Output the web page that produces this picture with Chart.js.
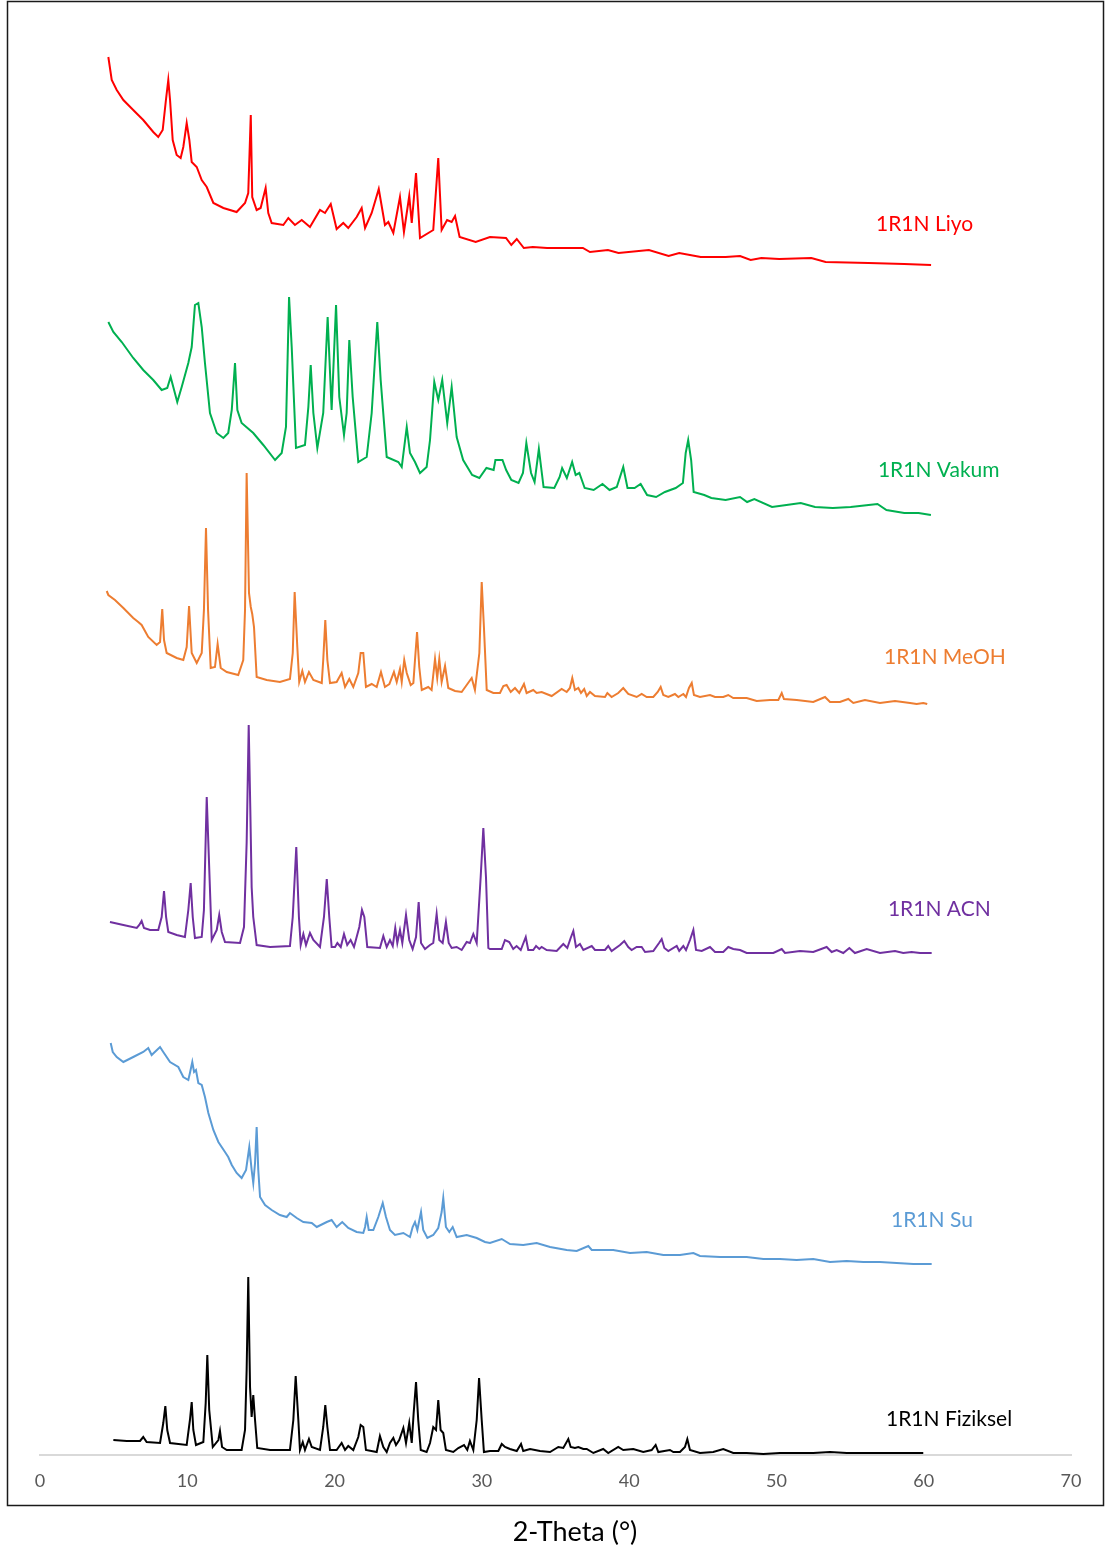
<!DOCTYPE html>
<html>
<head>
<meta charset="utf-8">
<title>1R1N XRD</title>
<script src="https://cdn.jsdelivr.net/npm/chart.js@4.4.1/dist/chart.umd.min.js"></script>
<style>
  html,body{margin:0;padding:0;background:#fff;}
  #wrap{position:relative;width:1105px;height:1551px;}
</style>
</head>
<body>
<div id="wrap"><canvas id="xrd"></canvas></div>
<script>
// 2-theta (deg) / intensity (a.u., each pattern already offset as in the sheet)
const liyo = [[4.64,1398],[4.87,1375],[5.21,1365],[5.66,1355],[6.33,1345],[7.01,1335],[7.69,1323],[8.03,1318],[8.33,1325],[8.55,1355],[8.71,1375],[8.83,1355],[9.01,1315],[9.28,1300],[9.55,1297],[9.73,1308],[9.96,1332],[10.14,1315],[10.30,1293],[10.64,1288],[10.98,1275],[11.32,1268],[11.77,1252],[12.45,1247],[13.35,1243],[13.92,1252],[14.14,1262],[14.31,1340],[14.41,1258],[14.71,1245],[14.98,1247],[15.32,1267],[15.50,1242],[15.73,1232],[16.52,1230],[16.86,1237],[17.31,1230],[17.77,1235],[18.33,1228],[19.01,1245],[19.35,1242],[19.74,1251],[20.14,1226],[20.59,1232],[20.93,1227],[21.50,1238],[21.84,1247],[22.07,1227],[22.52,1242],[23.00,1266],[23.42,1230],[23.65,1233],[23.99,1222],[24.44,1258],[24.71,1223],[25.07,1259],[25.24,1232],[25.53,1282],[25.80,1217],[26.70,1225],[27.04,1297],[27.27,1225],[27.64,1235],[27.95,1233],[28.18,1239],[28.49,1218],[29.58,1213],[30.55,1218],[31.64,1217],[32.00,1210],[32.37,1216],[32.85,1207],[33.46,1208],[34.43,1207],[35.64,1207],[36.86,1207],[37.34,1203],[38.56,1205],[39.28,1202],[41.34,1205],[42.68,1199],[43.40,1202],[44.86,1198],[46.55,1198],[47.53,1199],[48.25,1195],[48.98,1197],[50.19,1196],[52.37,1197],[53.34,1193],[56.26,1192],[58.68,1191],[60.50,1190]];

const vakum = [[4.64,1133],[4.98,1123],[5.55,1113],[6.33,1097],[7.01,1085],[7.69,1075],[8.26,1065],[8.64,1067],[8.87,1078],[9.05,1068],[9.32,1053],[9.62,1068],[10.07,1092],[10.30,1108],[10.52,1150],[10.75,1152],[10.98,1128],[11.20,1092],[11.54,1042],[12.00,1022],[12.45,1017],[12.78,1022],[13.02,1045],[13.24,1092],[13.40,1045],[13.69,1032],[14.48,1022],[15.16,1010],[15.96,995],[16.41,1002],[16.70,1028],[16.91,1158],[17.09,1108],[17.38,1007],[17.99,1010],[18.22,1048],[18.38,1090],[18.56,1042],[18.83,1007],[19.23,1042],[19.53,1138],[19.80,1045],[20.10,1150],[20.32,1058],[20.64,1020],[20.82,1042],[21.00,1115],[21.23,1058],[21.61,993],[22.18,998],[22.52,1042],[22.90,1133],[23.13,1075],[23.54,998],[24.33,993],[24.56,988],[24.90,1028],[25.12,1002],[25.46,993],[25.80,982],[26.25,988],[26.48,1015],[26.77,1073],[27.04,1055],[27.31,1075],[27.65,1032],[27.95,1068],[28.29,1018],[28.73,995],[29.34,980],[29.83,977],[30.31,987],[30.80,985],[30.92,995],[31.40,995],[31.65,985],[32.00,975],[32.49,972],[32.79,982],[33.02,1012],[33.34,982],[33.58,973],[33.87,1006],[34.19,968],[34.92,967],[35.28,978],[35.45,987],[35.77,977],[36.13,993],[36.37,980],[36.62,982],[36.98,967],[37.59,965],[38.19,971],[38.67,965],[39.16,968],[39.60,988],[39.89,967],[40.37,967],[40.78,971],[41.22,960],[41.83,958],[42.43,963],[43.16,967],[43.65,972],[43.84,1002],[44.01,1015],[44.21,995],[44.38,963],[45.10,960],[45.58,957],[46.55,955],[47.53,958],[48.01,953],[48.50,956],[49.70,948],[50.68,950],[51.65,952],[52.62,948],[53.83,947],[55.04,948],[56.26,950],[56.86,951],[57.47,945],[58.68,942],[59.65,942],[60.49,940]];

const meoh = [[4.53,864],[4.64,860],[5.09,855],[5.66,847],[6.33,837],[6.67,833],[6.90,830],[7.35,818],[7.92,810],[8.15,813],[8.30,846],[8.42,815],[8.60,802],[9.28,797],[9.73,795],[9.96,808],[10.12,849],[10.30,802],[10.64,792],[10.98,802],[11.13,845],[11.27,927],[11.41,845],[11.59,787],[11.88,788],[12.06,811],[12.27,787],[12.68,783],[13.46,780],[13.80,795],[13.92,845],[14.03,982],[14.19,862],[14.31,848],[14.41,841],[14.53,828],[14.71,778],[15.39,775],[16.29,773],[16.97,776],[17.16,802],[17.29,863],[17.47,808],[17.60,773],[17.81,784],[17.99,773],[18.26,783],[18.56,775],[19.13,772],[19.23,795],[19.37,835],[19.51,795],[19.69,772],[20.14,773],[20.48,782],[20.71,768],[21.00,776],[21.27,768],[21.61,782],[21.77,802],[21.95,802],[22.13,768],[22.52,771],[22.86,768],[23.15,783],[23.42,768],[23.72,771],[24.03,783],[24.22,773],[24.44,786],[24.56,773],[24.73,795],[24.90,782],[25.17,770],[25.35,772],[25.46,795],[25.60,823],[25.75,788],[25.92,765],[26.36,768],[26.59,765],[26.82,796],[26.97,777],[27.11,796],[27.27,773],[27.50,789],[27.72,767],[28.18,764],[28.63,763],[28.97,770],[29.31,777],[29.53,765],[29.83,802],[29.99,873],[30.14,828],[30.33,765],[30.78,762],[31.23,762],[31.46,769],[31.68,770],[31.96,763],[32.25,767],[32.54,762],[32.86,771],[33.04,762],[33.49,765],[33.72,762],[34.06,763],[34.74,759],[35.42,766],[35.76,763],[35.98,767],[36.14,777],[36.32,765],[36.55,767],[36.73,762],[36.95,766],[37.12,759],[37.34,763],[37.68,759],[38.36,758],[38.52,762],[38.81,758],[39.26,762],[39.60,767],[39.94,761],[40.51,758],[40.85,761],[41.19,758],[41.64,758],[41.94,763],[42.14,768],[42.32,760],[42.66,758],[43.11,761],[43.34,758],[43.68,761],[43.86,758],[44.06,767],[44.25,772],[44.40,760],[44.81,758],[45.49,760],[45.83,758],[46.39,758],[46.73,760],[47.07,757],[47.98,757],[48.66,754],[49.56,755],[50.13,755],[50.36,762],[50.51,756],[51.38,755],[52.50,753],[53.30,758],[53.64,753],[54.31,753],[54.88,756],[55.22,752],[56.01,755],[57.03,752],[58.05,754],[59.07,752],[59.52,751],[59.97,752],[60.24,751]];

const acn = [[4.75,533],[5.66,530],[6.57,527],[6.74,530],[6.90,534],[7.06,527],[7.47,525],[8.03,525],[8.26,538],[8.42,564],[8.56,538],[8.71,523],[9.28,520],[9.84,518],[10.07,545],[10.23,572],[10.37,538],[10.52,517],[10.98,518],[11.13,545],[11.32,658],[11.47,595],[11.66,515],[12.00,525],[12.17,540],[12.34,523],[12.56,513],[13.58,512],[13.85,528],[14.03,612],[14.17,730],[14.28,645],[14.37,568],[14.48,538],[14.71,510],[15.62,508],[16.97,509],[17.16,538],[17.40,608],[17.58,538],[17.70,510],[17.88,521],[18.06,510],[18.33,522],[18.56,515],[19.01,508],[19.28,538],[19.47,576],[19.64,538],[19.80,508],[20.03,508],[20.19,512],[20.42,508],[20.64,521],[20.86,510],[21.09,515],[21.32,508],[21.68,528],[21.86,545],[22.02,538],[22.22,508],[23.08,507],[23.31,519],[23.54,508],[23.76,515],[23.95,509],[24.12,527],[24.26,512],[24.44,525],[24.60,512],[24.85,540],[25.07,515],[25.30,506],[25.53,518],[25.71,553],[25.87,512],[26.14,506],[26.48,510],[26.70,512],[26.93,541],[27.11,515],[27.34,512],[27.56,533],[27.75,512],[27.95,507],[28.29,508],[28.63,505],[28.97,513],[29.19,512],[29.42,521],[29.65,512],[29.92,578],[30.10,627],[30.28,578],[30.44,507],[30.55,506],[31.35,506],[31.57,515],[31.86,513],[32.13,506],[32.36,509],[32.64,505],[32.98,518],[33.15,505],[33.49,505],[33.68,509],[33.90,506],[34.06,508],[34.40,505],[35.08,504],[35.53,511],[35.80,507],[36.03,517],[36.21,524],[36.39,508],[36.66,511],[36.89,505],[37.46,509],[37.68,505],[38.36,505],[38.58,509],[38.81,504],[39.38,510],[39.67,514],[39.94,508],[40.17,505],[40.51,508],[40.85,508],[41.08,503],[41.64,504],[42.03,512],[42.21,516],[42.39,507],[42.66,504],[43.23,509],[43.40,504],[43.68,509],[43.86,505],[44.13,515],[44.36,525],[44.54,505],[44.93,504],[45.49,508],[45.83,503],[46.39,503],[46.73,508],[47.07,506],[47.53,505],[47.98,502],[48.88,502],[49.79,502],[50.36,506],[50.58,502],[51.60,504],[52.50,503],[53.41,508],[53.75,503],[54.09,505],[54.54,502],[54.95,507],[55.33,502],[56.13,506],[57.03,502],[58.05,504],[58.61,502],[59.18,503],[59.75,502],[60.54,502]];

const su = [[4.80,412],[4.94,403],[5.21,398],[5.66,393],[6.33,398],[7.01,403],[7.35,407],[7.58,400],[8.15,408],[8.37,403],[8.83,393],[9.39,388],[9.73,378],[10.07,375],[10.18,382],[10.34,393],[10.46,383],[10.59,385],[10.75,372],[10.98,370],[11.20,358],[11.43,342],[11.77,325],[12.11,313],[12.56,303],[12.78,298],[13.02,290],[13.35,282],[13.69,277],[13.99,285],[14.21,308],[14.37,285],[14.48,272],[14.60,292],[14.71,328],[14.82,285],[14.94,258],[15.28,250],[15.73,245],[16.29,240],[16.75,238],[16.97,242],[17.43,237],[17.88,233],[18.45,232],[18.79,228],[19.47,233],[19.80,235],[20.14,228],[20.52,233],[20.93,227],[21.50,223],[21.95,222],[22.07,228],[22.18,238],[22.32,225],[22.63,225],[22.97,238],[23.27,252],[23.49,238],[23.76,225],[24.10,220],[24.67,222],[25.12,218],[25.30,228],[25.46,233],[25.62,225],[25.87,243],[26.02,225],[26.30,217],[26.70,220],[27.04,227],[27.27,243],[27.38,257],[27.56,228],[27.79,223],[28.02,228],[28.29,218],[28.97,220],[29.65,217],[30.21,213],[30.55,212],[31.35,216],[31.91,211],[32.81,210],[33.72,212],[34.63,208],[35.76,205],[36.44,204],[37.23,209],[37.46,205],[38.92,205],[40.06,202],[41.19,203],[42.32,200],[43.45,200],[44.36,202],[44.81,199],[46.17,198],[47.30,198],[47.98,198],[49.11,196],[50.24,196],[51.37,195],[52.50,196],[53.64,193],[54.77,194],[55.90,193],[57.03,193],[58.16,192],[59.29,191],[60.54,191]];

const fiziksel = [[4.98,15],[5.89,14],[6.79,14],[7.01,18],[7.24,13],[8.15,12],[8.37,32],[8.51,49],[8.64,25],[8.83,12],[9.96,10],[10.18,35],[10.30,53],[10.41,25],[10.59,10],[11.09,13],[11.25,52],[11.36,100],[11.49,45],[11.73,8],[12.11,15],[12.22,24],[12.36,8],[12.68,5],[13.69,5],[13.92,25],[14.03,85],[14.14,178],[14.26,68],[14.37,38],[14.48,60],[14.60,35],[14.75,7],[15.62,5],[16.97,5],[17.20,35],[17.36,79],[17.54,35],[17.65,5],[17.84,13],[17.99,5],[18.26,16],[18.45,8],[19.01,5],[19.23,28],[19.37,50],[19.51,28],[19.69,5],[20.14,5],[20.48,12],[20.71,5],[20.93,9],[21.27,5],[21.61,18],[21.77,30],[21.95,28],[22.13,5],[22.86,3],[23.08,19],[23.31,8],[23.54,3],[23.76,12],[23.99,17],[24.17,10],[24.39,15],[24.67,27],[24.85,12],[25.07,32],[25.24,12],[25.37,42],[25.53,73],[25.68,35],[25.85,5],[26.25,3],[26.48,12],[26.70,28],[26.89,25],[27.04,55],[27.20,25],[27.38,22],[27.56,5],[28.06,3],[28.40,7],[28.79,10],[29.01,5],[29.19,14],[29.42,5],[29.65,35],[29.81,77],[29.99,35],[30.14,3],[30.55,4],[31.12,4],[31.35,11],[31.57,8],[31.91,6],[32.37,4],[32.66,11],[32.81,4],[33.27,6],[33.95,4],[34.63,3],[35.19,8],[35.53,7],[35.87,16],[36.03,8],[36.32,7],[36.55,8],[36.89,6],[37.12,6],[37.57,2],[38.24,6],[38.58,2],[39.26,8],[39.60,5],[40.28,6],[40.96,3],[41.53,5],[41.80,10],[41.98,3],[42.77,5],[43.00,3],[43.45,3],[43.79,8],[43.95,16],[44.13,5],[44.81,2],[45.71,3],[46.39,6],[47.07,2],[47.98,2],[49.11,1],[50.24,2],[52.50,2],[53.64,3],[54.77,2],[55.90,2],[57.49,2],[58.61,2],[59.97,2]];

const names  = ['1R1N Liyo','1R1N Vakum','1R1N MeOH','1R1N ACN','1R1N Su','1R1N Fiziksel'];
const series = [liyo, vakum, meoh, acn, su, fiziksel];
const colors = ['#FF0000','#00B050','#ED7D31','#7030A0','#5B9BD5','#000000'];
// where each name sits, in 2-theta / intensity units (left edge, middle)
const labelAt = [[56.76,1231],[56.89,985],[57.30,798],[57.57,546],[57.78,235],[57.44,36]];
const xTicks = [0,10,20,30,40,50,60,70];
const xTitle = '2-Theta (°)';

const FONT = 'Lato, "Open Sans", sans-serif';

// outer frame, axis title (sits right of the plot centre, like the sheet) and pattern names
const decor = {
  id:'decor',
  afterDatasetsDraw(chart){
    const {ctx, scales:{x,y}} = chart;
    ctx.save();
    ctx.font = `21px ${FONT}`;
    ctx.textAlign = 'left'; ctx.textBaseline = 'middle';
    names.forEach((n,i)=>{
      ctx.fillStyle = colors[i];
      ctx.fillText(n, x.getPixelForValue(labelAt[i][0]), y.getPixelForValue(labelAt[i][1]));
    });
    ctx.restore();
  },
  afterDraw(chart){
    const {ctx} = chart;
    ctx.save();
    ctx.strokeStyle = '#1a1a1a'; ctx.lineWidth = 1.5;
    ctx.strokeRect(7.5, 1.5, 1096, 1504);
    ctx.font = `27px ${FONT}`;
    ctx.fillStyle = '#000';
    ctx.textAlign = 'center'; ctx.textBaseline = 'middle';
    ctx.fillText(xTitle, 575, 1532);
    ctx.restore();
  }
};

new Chart(document.getElementById('xrd'), {
  type:'line',
  data:{
    datasets: series.map((s,i)=>({
      label:names[i],
      data:s.map(p=>({x:p[0], y:p[1]})),
      borderColor:colors[i], backgroundColor:colors[i],
      borderWidth:2, pointRadius:0, tension:0, fill:false
    }))
  },
  options:{
    responsive:true, maintainAspectRatio:false, animation:false,
    layout:{padding:{left:40, right:34, top:25, bottom:0}},
    plugins:{legend:{display:false}, tooltip:{enabled:false}},
    scales:{
      x:{
        type:'linear', min:0, max:70,
        afterBuildTicks:s=>{ s.ticks = xTicks.map(v=>({value:v})); },
        afterFit:s=>{ s.height = 96; },
        grid:{display:false, drawTicks:false},
        border:{display:true, color:'#d9d9d9', width:2},
        ticks:{padding:15, color:'#595959', font:{family:FONT, size:18}},
        title:{display:false}
      },
      y:{display:false, min:0, max:1430}
    }
  },
  plugins:[decor]
});
</script>
</body>
</html>
